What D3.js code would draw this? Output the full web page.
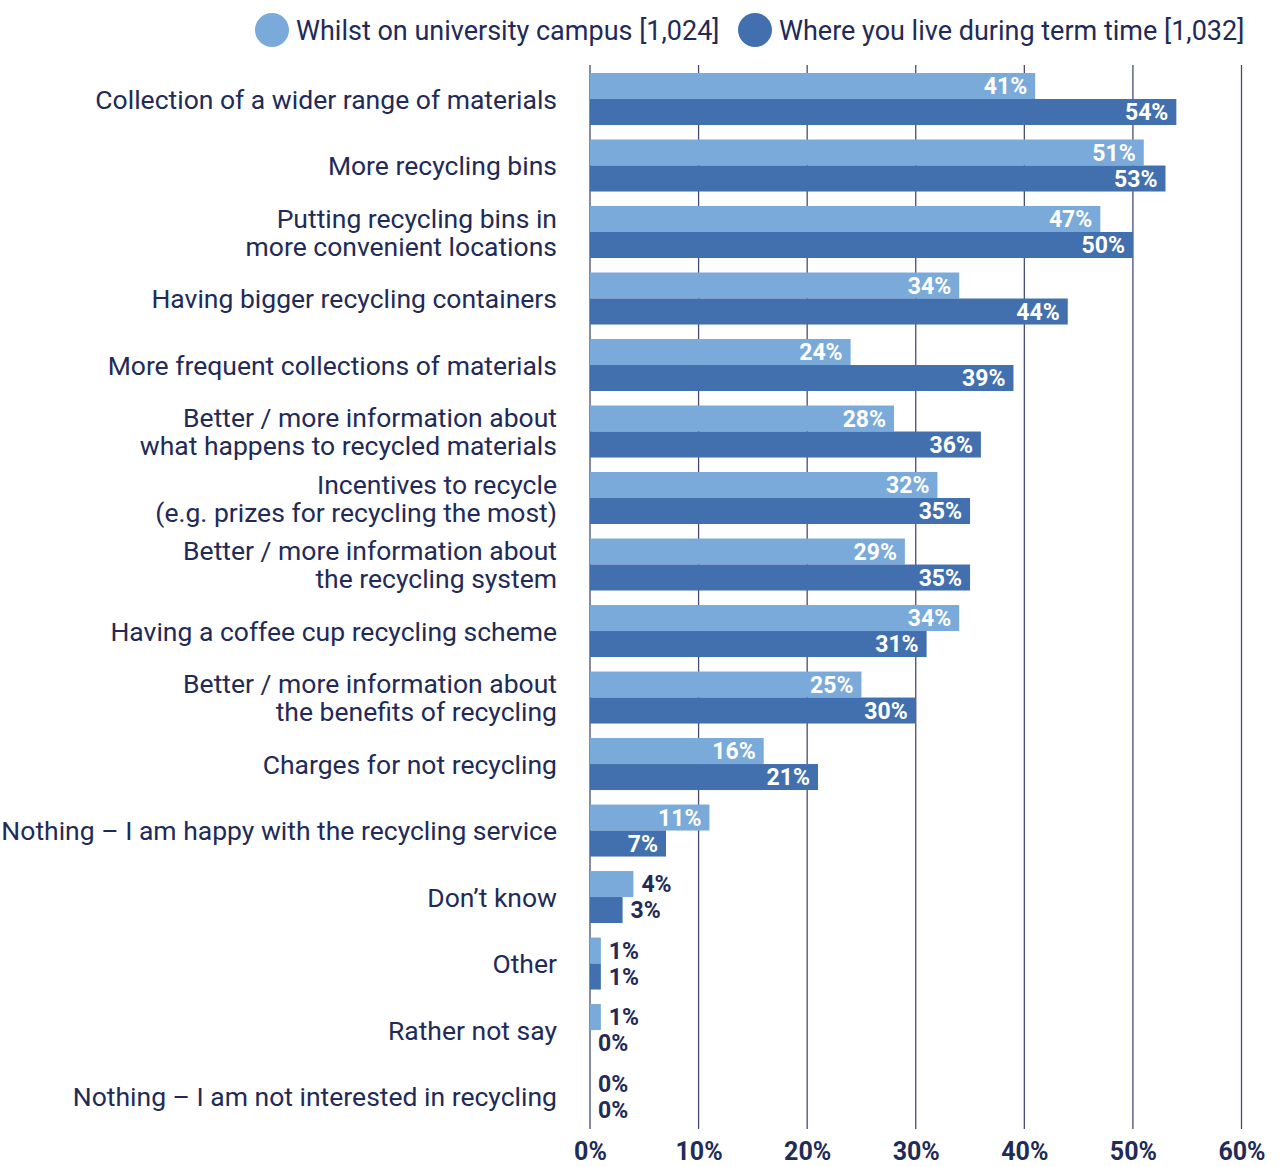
<!DOCTYPE html>
<html>
<head>
<meta charset="utf-8">
<script src="https://cdn.jsdelivr.net/npm/d3@7"></script>
<style>
  html, body { margin: 0; padding: 0; background: #ffffff; }
  svg { display: block; font-family: Roboto, "Open Sans", sans-serif; }
</style>
</head>
<body>
<svg id="chart" width="1285" height="1167"></svg>
<script>
// Survey answers, one entry per improvement; "\n" splits two-line labels
const categories = [
  "Collection of a wider range of materials",
  "More recycling bins",
  "Putting recycling bins in\nmore convenient locations",
  "Having bigger recycling containers",
  "More frequent collections of materials",
  "Better / more information about\nwhat happens to recycled materials",
  "Incentives to recycle\n(e.g. prizes for recycling the most)",
  "Better / more information about\nthe recycling system",
  "Having a coffee cup recycling scheme",
  "Better / more information about\nthe benefits of recycling",
  "Charges for not recycling",
  "Nothing \u2013 I am happy with the recycling service",
  "Don\u2019t know",
  "Other",
  "Rather not say",
  "Nothing \u2013 I am not interested in recycling"
];

const campusValues = [41, 51, 47, 34, 24, 28, 32, 29, 34, 25, 16, 11, 4, 1, 1, 0];
const homeValues   = [54, 53, 50, 44, 39, 36, 35, 35, 31, 30, 21, 7, 3, 1, 0, 0];

const seriesNames = ["Whilst on university campus [1,024]", "Where you live during term time [1,032]"];
const seriesKeys = ["campus", "home"];
const tickValues = [0, 10, 20, 30, 40, 50, 60];

const colors = { campus: "#7aaad9", home: "#4270ae" };
const navy = "#222a57";

const svg = d3.select("#chart");

const rows = categories.map((c, i) => ({ category: c, campus: campusValues[i], home: homeValues[i] }));

const x = d3.scaleLinear().domain([0, 60]).range([590, 1241.5]);
const y = d3.scaleBand().domain(categories).range([66.35, 1129.2]).paddingInner(0.218).paddingOuter(0.1);
const ySub = d3.scaleBand().domain(seriesKeys).range([0, y.bandwidth()]);

// Vertical gridlines
svg.append("g").selectAll("line").data(tickValues).join("line")
  .attr("x1", d => x(d)).attr("x2", d => x(d))
  .attr("y1", 65).attr("y2", 1129)
  .attr("stroke", "#474c76").attr("stroke-width", 1.3);

// Bottom axis labels
const axis = d3.axisBottom(x).tickValues(tickValues).tickFormat(d => d + "%").tickSize(0).tickPadding(0);
const axisG = svg.append("g").attr("transform", "translate(0,1160)").call(axis);
axisG.select(".domain").remove();
axisG.selectAll("text")
  .attr("font-family", "Roboto, sans-serif")
  .attr("font-size", 25).attr("font-weight", 700).attr("fill", navy)
  .attr("y", 0).attr("dy", 0);

// Bars
const groups = svg.append("g").selectAll("g").data(rows).join("g")
  .attr("transform", d => `translate(0,${y(d.category)})`);

groups.selectAll("rect").data(d => seriesKeys.map(k => ({ key: k, value: d[k] }))).join("rect")
  .attr("x", x(0))
  .attr("y", d => ySub(d.key))
  .attr("width", d => x(d.value) - x(0))
  .attr("height", ySub.bandwidth())
  .attr("fill", d => colors[d.key]);

// Value labels: inside (white) for long bars, outside (navy) for short ones
groups.selectAll("text.val").data(d => seriesKeys.map(k => ({ key: k, value: d[k] }))).join("text")
  .attr("class", "val")
  .attr("x", d => d.value >= 6 ? x(d.value) - 8 : x(d.value) + 8)
  .attr("y", d => ySub(d.key) + ySub.bandwidth() / 2)
  .attr("dy", "0.36em")
  .attr("text-anchor", d => d.value >= 6 ? "end" : "start")
  .attr("font-size", 23).attr("font-weight", 700)
  .attr("fill", d => d.value >= 6 ? "#ffffff" : navy)
  .text(d => d.value + "%");

// Category labels
const catLabels = svg.append("g").selectAll("text").data(rows).join("text")
  .attr("text-anchor", "end")
  .attr("font-size", 26.5).attr("fill", navy)
  .attr("transform", d => `translate(557,${y(d.category) + y.bandwidth() / 2})`);

catLabels.each(function(d) {
  const lines = d.category.split("\n");
  const t = d3.select(this);
  lines.forEach((line, i) => {
    t.append("tspan").attr("x", 0)
      .attr("y", (i - (lines.length - 1) / 2) * 28)
      .attr("dy", "0.36em")
      .text(line);
  });
});

// Legend
const legendItems = [
  { key: "campus", name: seriesNames[0], cx: 272, tx: 296 },
  { key: "home", name: seriesNames[1], cx: 755, tx: 779 }
];
const legend = svg.append("g");
legend.selectAll("circle").data(legendItems).join("circle")
  .attr("cx", d => d.cx).attr("cy", 30).attr("r", 17)
  .attr("fill", d => colors[d.key]);
legend.selectAll("text").data(legendItems).join("text")
  .attr("x", d => d.tx).attr("y", 30).attr("dy", "0.36em")
  .attr("font-size", 27).attr("fill", navy)
  .text(d => d.name);
</script>
</body>
</html>
